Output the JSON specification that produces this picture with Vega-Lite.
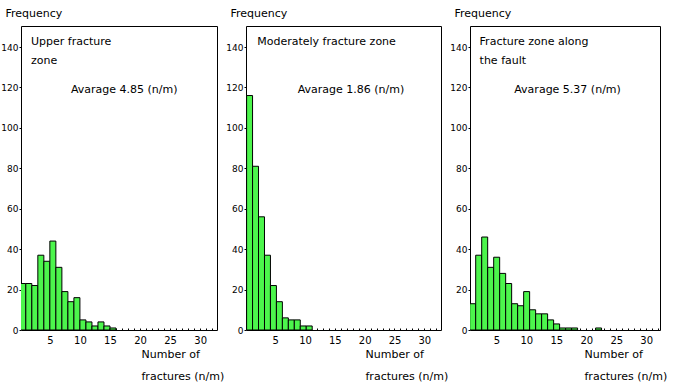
{
  "$schema": "https://vega.github.io/schema/vega-lite/v6.json",
  "background": "white",
  "padding": {"left": 0, "top": 6, "right": 5, "bottom": 5},
  "config": {
    "view": {"stroke": "black", "strokeWidth": 1},
    "font": "DejaVu Sans",
    "axis": {"grid": false, "domain": false, "labelColor": "black", "titleColor": "black", "tickColor": "black", "labelFont": "DejaVu Sans", "titleFont": "DejaVu Sans", "titleFontWeight": "normal"},
    "text": {"font": "DejaVu Sans", "fontSize": 11, "color": "black", "align": "left", "baseline": "middle"}
  },
  "datasets": {
    "upper": [
      {"x0": 0, "x1": 1, "count": 23}, {"x0": 1, "x1": 2, "count": 23}, {"x0": 2, "x1": 3, "count": 22},
      {"x0": 3, "x1": 4, "count": 37}, {"x0": 4, "x1": 5, "count": 34}, {"x0": 5, "x1": 6, "count": 44},
      {"x0": 6, "x1": 7, "count": 31}, {"x0": 7, "x1": 8, "count": 19}, {"x0": 8, "x1": 9, "count": 14},
      {"x0": 9, "x1": 10, "count": 16}, {"x0": 10, "x1": 11, "count": 5}, {"x0": 11, "x1": 12, "count": 4},
      {"x0": 12, "x1": 13, "count": 2}, {"x0": 13, "x1": 14, "count": 4}, {"x0": 14, "x1": 15, "count": 2},
      {"x0": 15, "x1": 16, "count": 1}
    ],
    "moderate": [
      {"x0": 0.2, "x1": 1.2, "count": 116}, {"x0": 1.2, "x1": 2.2, "count": 81}, {"x0": 2.2, "x1": 3.2, "count": 56},
      {"x0": 3.2, "x1": 4.2, "count": 37}, {"x0": 4.2, "x1": 5.2, "count": 22}, {"x0": 5.2, "x1": 6.2, "count": 14},
      {"x0": 6.2, "x1": 7.2, "count": 6}, {"x0": 7.2, "x1": 8.2, "count": 5}, {"x0": 8.2, "x1": 9.2, "count": 5},
      {"x0": 9.2, "x1": 10.2, "count": 2}, {"x0": 10.2, "x1": 11.2, "count": 2}
    ],
    "fault": [
      {"x0": 0.55, "x1": 1.55, "count": 13}, {"x0": 1.55, "x1": 2.55, "count": 37}, {"x0": 2.55, "x1": 3.55, "count": 46},
      {"x0": 3.55, "x1": 4.55, "count": 31}, {"x0": 4.55, "x1": 5.55, "count": 36}, {"x0": 5.55, "x1": 6.55, "count": 28},
      {"x0": 6.55, "x1": 7.55, "count": 23}, {"x0": 7.55, "x1": 8.55, "count": 13}, {"x0": 8.55, "x1": 9.55, "count": 12},
      {"x0": 9.55, "x1": 10.55, "count": 19}, {"x0": 10.55, "x1": 11.55, "count": 10}, {"x0": 11.55, "x1": 12.55, "count": 8},
      {"x0": 12.55, "x1": 13.55, "count": 8}, {"x0": 13.55, "x1": 14.55, "count": 5}, {"x0": 14.55, "x1": 15.55, "count": 3},
      {"x0": 15.55, "x1": 16.55, "count": 1}, {"x0": 16.55, "x1": 17.55, "count": 1}, {"x0": 17.55, "x1": 18.55, "count": 1},
      {"x0": 21.55, "x1": 22.55, "count": 1}
    ],
    "notes_upper": [
      {"label": "Upper fracture", "lx": 1.86, "ly": 142.5},
      {"label": "zone", "lx": 1.86, "ly": 133},
      {"label": "Avarage 4.85 (n/m)", "lx": 8.5, "ly": 118.8}
    ],
    "notes_moderate": [
      {"label": "Moderately fracture zone", "lx": 1.98, "ly": 142.5},
      {"label": "Avarage 1.86 (n/m)", "lx": 8.76, "ly": 118.8}
    ],
    "notes_fault": [
      {"label": "Fracture zone along", "lx": 2.2, "ly": 142.5},
      {"label": "the fault", "lx": 2.2, "ly": 133},
      {"label": "Avarage 5.37 (n/m)", "lx": 7.98, "ly": 118.8}
    ]
  },
  "hconcat": [
    {
      "width": 196, "height": 304,
      "layer": [
        {
          "data": {"name": "upper"},
          "mark": {"type": "bar", "fill": "#4cf54c", "stroke": "black", "strokeWidth": 1, "clip": true},
          "encoding": {
            "x": {"field": "x0", "type": "quantitative", "scale": {"domain": [0.2, 32.8], "nice": false, "zero": false},
              "axis": {"values": [1,2,3,4,5,6,7,8,9,10,11,12,13,14,15,16,17,18,19,20,21,22,23,24,25,26,27,28,29,30,31,32], "tickCount": 64, "format": "d",
                "labelExpr": "datum.value % 5 === 0 ? datum.label : ''", "labelOverlap": false, "tickSize": -2, "labelPadding": 7, "labelFontSize": 10,
                "title": ["Number of", "fractures (n/m)"], "titleAngle": 0, "titleAlign": "left", "titleBaseline": "top",
                "titleX": 120, "titleY": 18, "titleFontSize": 11, "titleLineHeight": 22}},
            "x2": {"field": "x1"},
            "y": {"field": "count", "type": "quantitative", "scale": {"domain": [0, 150.4], "nice": false},
              "axis": {"values": [0,20,40,60,80,100,120,140], "labelOverlap": false, "tickSize": 2, "labelPadding": 1, "labelFontSize": 9,
                "title": "Frequency", "titleAngle": 0, "titleAlign": "left", "titleBaseline": "middle",
                "titleX": -16, "titleY": -13, "titleFontSize": 11}},
            "y2": {"datum": 0}
          }
        },
        {
          "data": {"name": "notes_upper"},
          "mark": {"type": "text"},
          "encoding": {
            "x": {"field": "lx", "type": "quantitative"},
            "y": {"field": "ly", "type": "quantitative"},
            "text": {"field": "label"}
          }
        }
      ]
    },
    {
      "width": 195, "height": 304,
      "layer": [
        {
          "data": {"name": "moderate"},
          "mark": {"type": "bar", "fill": "#4cf54c", "stroke": "black", "strokeWidth": 1, "clip": true},
          "encoding": {
            "x": {"field": "x0", "type": "quantitative", "scale": {"domain": [0.1, 32.8], "nice": false, "zero": false},
              "axis": {"values": [1,2,3,4,5,6,7,8,9,10,11,12,13,14,15,16,17,18,19,20,21,22,23,24,25,26,27,28,29,30,31,32], "tickCount": 64, "format": "d",
                "labelExpr": "datum.value % 5 === 0 ? datum.label : ''", "labelOverlap": false, "tickSize": -2, "labelPadding": 7, "labelFontSize": 10,
                "title": ["Number of", "fractures (n/m)"], "titleAngle": 0, "titleAlign": "left", "titleBaseline": "top",
                "titleX": 119, "titleY": 18, "titleFontSize": 11, "titleLineHeight": 22}},
            "x2": {"field": "x1"},
            "y": {"field": "count", "type": "quantitative", "scale": {"domain": [0, 150.4], "nice": false},
              "axis": {"values": [0,20,40,60,80,100,120,140], "labelOverlap": false, "tickSize": 2, "labelPadding": 1, "labelFontSize": 9,
                "title": "Frequency", "titleAngle": 0, "titleAlign": "left", "titleBaseline": "middle",
                "titleX": -16, "titleY": -13, "titleFontSize": 11}},
            "y2": {"datum": 0}
          }
        },
        {
          "data": {"name": "notes_moderate"},
          "mark": {"type": "text"},
          "encoding": {
            "x": {"field": "lx", "type": "quantitative"},
            "y": {"field": "ly", "type": "quantitative"},
            "text": {"field": "label"}
          }
        }
      ]
    },
    {
      "width": 190, "height": 304,
      "layer": [
        {
          "data": {"name": "fault"},
          "mark": {"type": "bar", "fill": "#4cf54c", "stroke": "black", "strokeWidth": 1, "clip": true},
          "encoding": {
            "x": {"field": "x0", "type": "quantitative", "scale": {"domain": [0.6, 32.3], "nice": false, "zero": false},
              "axis": {"values": [1,2,3,4,5,6,7,8,9,10,11,12,13,14,15,16,17,18,19,20,21,22,23,24,25,26,27,28,29,30,31,32], "tickCount": 64, "format": "d",
                "labelExpr": "datum.value % 5 === 0 ? datum.label : ''", "labelOverlap": false, "tickSize": -2, "labelPadding": 7, "labelFontSize": 10,
                "title": ["Number of", "fractures (n/m)"], "titleAngle": 0, "titleAlign": "left", "titleBaseline": "top",
                "titleX": 114, "titleY": 18, "titleFontSize": 11, "titleLineHeight": 22}},
            "x2": {"field": "x1"},
            "y": {"field": "count", "type": "quantitative", "scale": {"domain": [0, 150.4], "nice": false},
              "axis": {"values": [0,20,40,60,80,100,120,140], "labelOverlap": false, "tickSize": 2, "labelPadding": 1, "labelFontSize": 9,
                "title": "Frequency", "titleAngle": 0, "titleAlign": "left", "titleBaseline": "middle",
                "titleX": -16, "titleY": -13, "titleFontSize": 11}},
            "y2": {"datum": 0}
          }
        },
        {
          "data": {"name": "notes_fault"},
          "mark": {"type": "text"},
          "encoding": {
            "x": {"field": "lx", "type": "quantitative"},
            "y": {"field": "ly", "type": "quantitative"},
            "text": {"field": "label"}
          }
        }
      ]
    }
  ],
  "spacing": 29,
  "bounds": "flush"
}
